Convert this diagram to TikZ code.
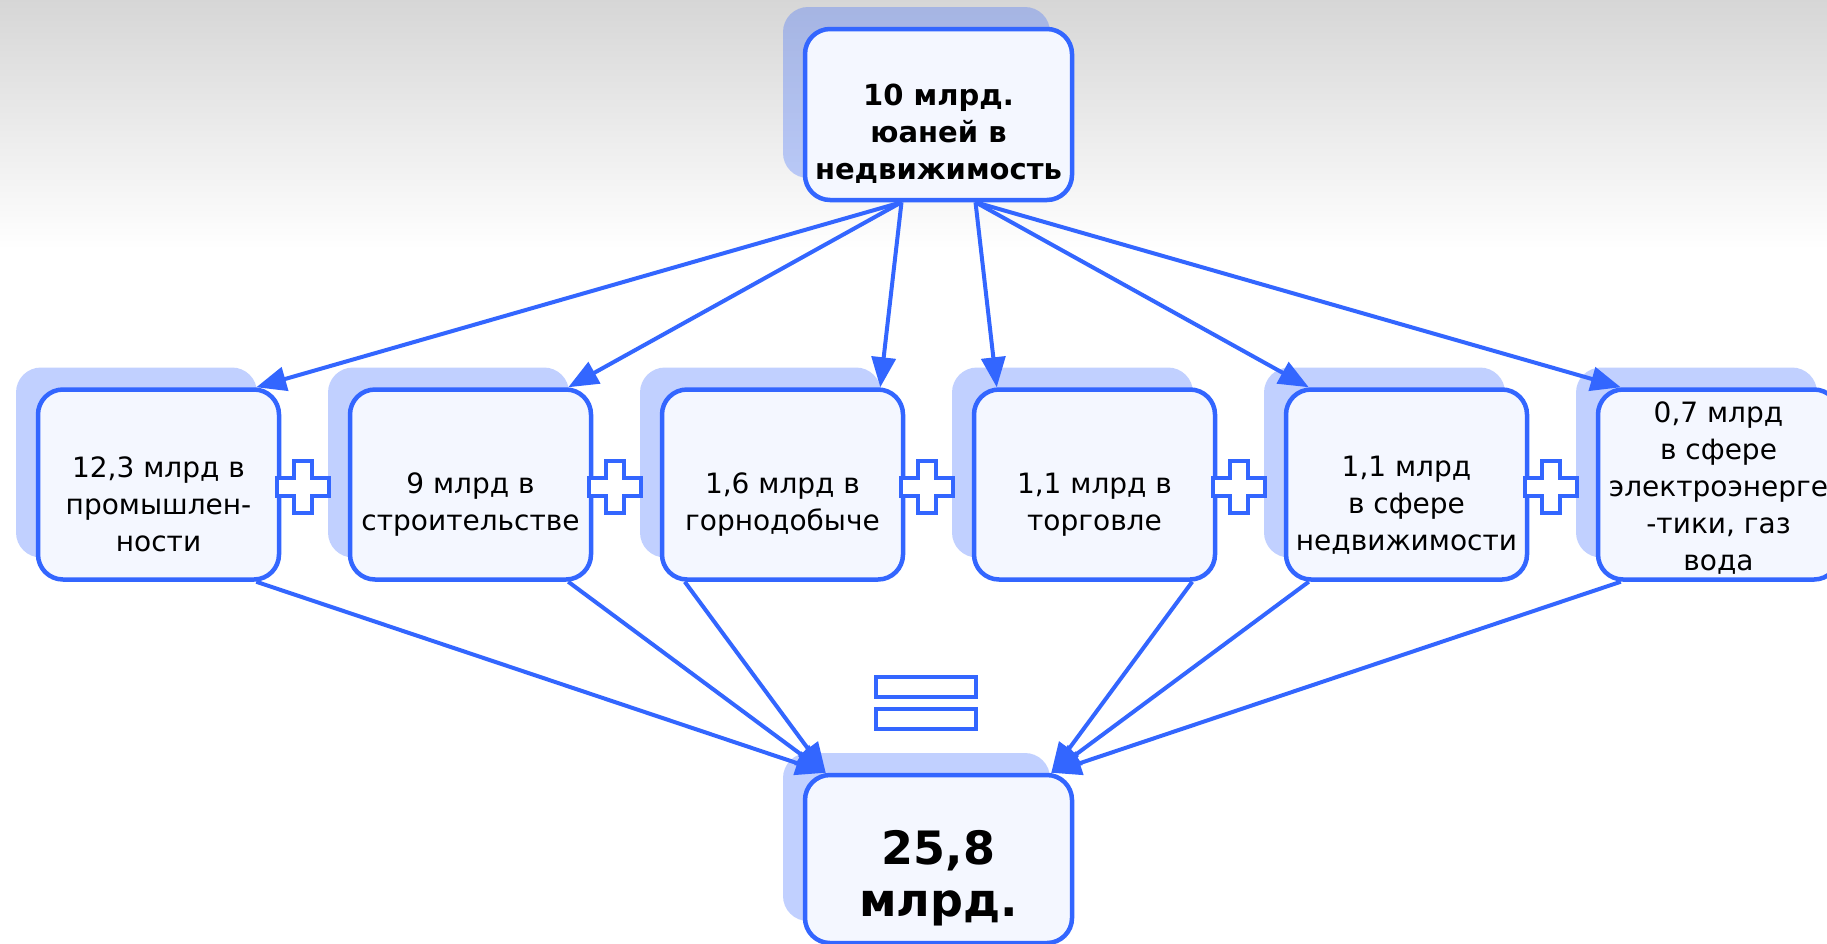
\documentclass[tikz,border=0pt]{standalone}
\usepackage{fontspec}
\setmainfont{DejaVu Sans}
\usetikzlibrary{arrows.meta,shadows}
\definecolor{lineblue}{RGB}{51,102,255}
\definecolor{boxfill}{RGB}{244,247,255}
\newcommand{\Drop}[1]{\rule{0pt}{#1}}
\newcommand{\PlusAt}[1]{\draw[sign] (#1) ++(-26,-9) -- ++(17,0) -- ++(0,-17) -- ++(18,0) -- ++(0,17) -- ++(17,0) -- ++(0,18) -- ++(-17,0) -- ++(0,17) -- ++(-18,0) -- ++(0,-17) -- ++(-17,0) -- cycle;}

\begin{document}
\begin{tikzpicture}[x=1pt, y=-1pt,
  box/.style = {draw=lineblue, line width=4.5pt, fill=boxfill, rounded corners=25pt, align=center, minimum width=241pt, minimum height=190pt, inner sep=2pt, font=\fontsize{28}{37}\selectfont, general shadow={fill=lineblue, fill opacity=0.3, shadow xshift=-22pt, shadow yshift=22pt}},
  bigbox/.style = {box, minimum width=267pt, minimum height=171pt, font=\fontsize{29}{37}\selectfont\bfseries},
  arr/.style = {draw=lineblue, line width=4pt, -{Triangle[length=30pt,width=24pt]}},
  sign/.style = {draw=lineblue, line width=4pt, fill=white}]

\useasboundingbox (0,0) rectangle (1827,943);
\fill[white] (0,0) rectangle (1827,943);
\shade[top color=black!16, bottom color=white] (0,0) rectangle (1827,250);

\node[bigbox] (top) at (938.5,114.5) {\Drop{59pt}10 млрд.\\юаней в\\недвижимость};

\node[box] (b1) at (158.5,484.5) {\Drop{61pt}12,3 млрд в\\промышлен-\\ности};
\node[box] (b2) at (470.5,484.5) {\Drop{61pt}9 млрд в\\строительстве};
\node[box] (b3) at (782.5,484.5) {\Drop{61pt}1,6 млрд в\\горнодобыче};
\node[box] (b4) at (1094.5,484.5) {\Drop{61pt}1,1 млрд в\\торговле};
\node[box] (b5) at (1406.5,484.5) {\Drop{61pt}1,1 млрд\\в сфере\\недвижимости};
\node[box] (b6) at (1718.5,484.5) {\Drop{28pt}0,7 млрд\\в сфере\\электроэнерге\\-тики, газ\\вода};

\node[bigbox, minimum height=168pt, font=\fontsize{46}{52}\selectfont\bfseries] (sum) at (938.5,859) {\Drop{73pt}25,8\\млрд.};

% plus signs between the boxes
\foreach \x in {303,615,927,1239,1551}
  {\PlusAt{\x,486.5}}

% equals sign
\draw[sign] (876,677) rectangle (976,697);
\draw[sign] (876,709) rectangle (976,729);

\draw[arr] ([xshift=-37pt]top.south) -- ([xshift=-25pt]b1.north east);
\draw[arr] ([xshift=-37pt]top.south) -- ([xshift=-25pt]b2.north east);
\draw[arr] ([xshift=-37pt]top.south) -- ([xshift=-25pt]b3.north east);
\draw[arr] ([xshift=37pt]top.south) -- ([xshift=25pt]b4.north west);
\draw[arr] ([xshift=37pt]top.south) -- ([xshift=25pt]b5.north west);
\draw[arr] ([xshift=37pt]top.south) -- ([xshift=25pt]b6.north west);

\draw[arr] ([xshift=-25pt]b1.south east) -- ([xshift=23pt]sum.north west);
\draw[arr] ([xshift=-25pt]b2.south east) -- ([xshift=23pt]sum.north west);
\draw[arr] ([xshift=25pt]b3.south west) -- ([xshift=23pt]sum.north west);
\draw[arr] ([xshift=-25pt]b4.south east) -- ([xshift=-23pt]sum.north east);
\draw[arr] ([xshift=25pt]b5.south west) -- ([xshift=-23pt]sum.north east);
\draw[arr] ([xshift=25pt]b6.south west) -- ([xshift=-23pt]sum.north east);

\end{tikzpicture}
\end{document}
